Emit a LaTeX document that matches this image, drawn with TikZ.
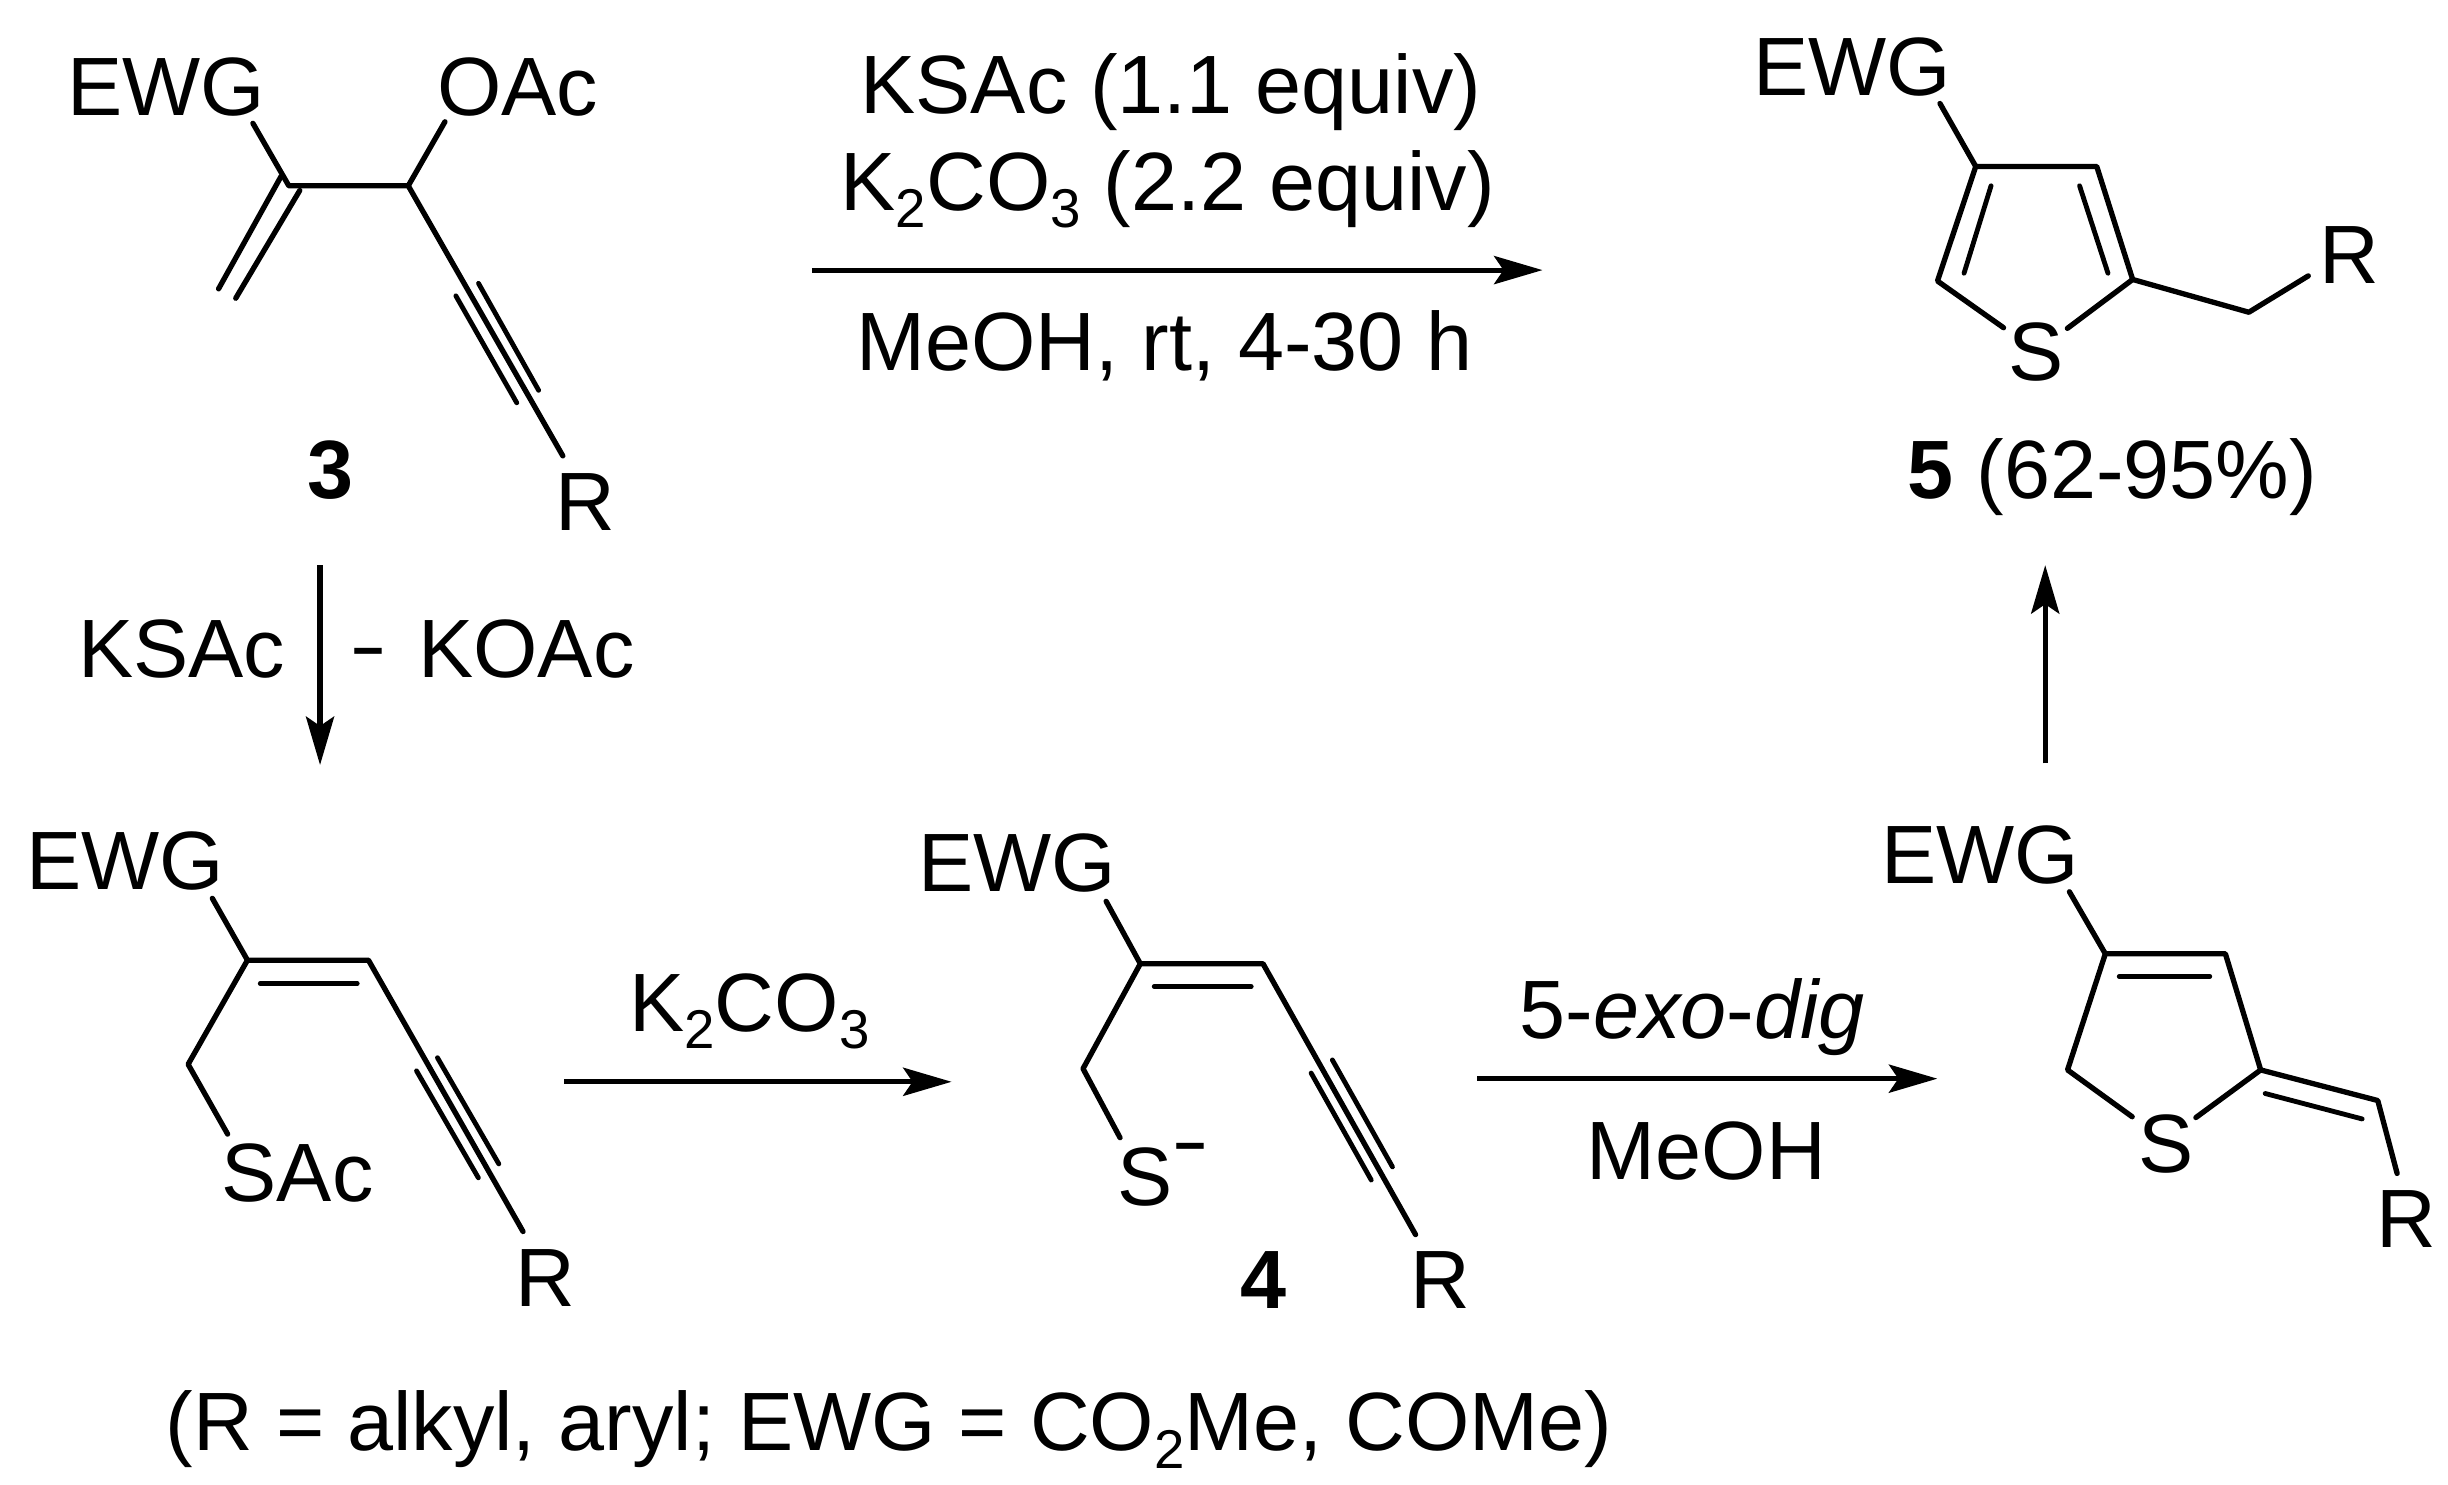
\documentclass[tikz,border=0pt]{standalone}
\usepackage{fontspec}
\setmainfont{Liberation Sans}
\usetikzlibrary{arrows.meta}
\newcommand{\chemsub}[1]{\raisebox{-11pt}{\fontsize{35}{35}\selectfont #1}}
\tikzset{
  lbl/.style={inner sep=0pt,outer sep=0pt,anchor=base west,font=\fontsize{53}{60}\selectfont},
  lblc/.style={lbl,anchor=base},
  bond/.style={line width=3.4pt,line cap=round,line join=round},
  thin bond/.style={line width=3.1pt,line cap=round},
  rxn/.style={line width=3.3pt,-{Stealth[length=31pt,width=18pt,inset=6pt]}}
}
\begin{document}
\begin{tikzpicture}[x=1pt,y=-1pt]
\useasboundingbox (0,0) rectangle (1568,951);
% ---------- compound 3
\node[lbl] (e3) at (43,73.7) {EWG};
\node[lbl] (o3) at (280,73.7) {OAc};
\node[lbl] (r3) at (356,340) {R};
\node[lblc] (n3) at (212,319) {\textbf{3}};
\coordinate (a1) at (162,79);
\coordinate (a2) at (185,119);
\coordinate (a3) at (261.5,119);
\coordinate (a4) at (285,78);
\coordinate (a5) at (360.5,292);
\coordinate (a6) at (180,113);
\coordinate (a7) at (140,185);
\coordinate (a8) at (192,122);
\coordinate (a9) at (151,191);
\coordinate (a10) at (292,189.5);
\coordinate (a11) at (331,258);
\coordinate (a12) at (306.5,181.5);
\coordinate (a13) at (345,250);
\draw[bond] (a1) -- (a2) -- (a3) -- (a5);
\draw[bond] (a3) -- (a4);
\draw[bond] (a6) -- (a7);
\draw[bond] (a8) -- (a9);
\draw[thin bond] (a10) -- (a11);
\draw[thin bond] (a12) -- (a13);
% ---------- top conditions
\node[lblc] (t1) at (750,73) {KSAc (1.1 equiv)};
\node[lblc] (t2) at (748,135) {K\chemsub{2}CO\chemsub{3} (2.2 equiv)};
\node[lblc] (t3) at (746,237) {MeOH, rt, 4-30 h};
\coordinate (b1) at (520,173);
\coordinate (b2) at (988,173);
\draw[rxn] (b1) -- (b2);
% ---------- compound 5
\node[lbl] (e5) at (1123,61) {EWG};
\node[lbl] (r5) at (1485.5,181.6) {R};
\node[lblc] (s5) at (1304,244) {S};
\node[lblc] (n5) at (1353,319) {\textbf{5} (62-95\%)};
\coordinate (c1) at (1242.6,66.3);
\coordinate (c2) at (1265.5,106.6);
\coordinate (c3) at (1343,106.6);
\coordinate (c4) at (1366,179);
\coordinate (c5) at (1241,180);
\coordinate (c6) at (1283.3,209.9);
\coordinate (c7) at (1324.2,210.3);
\coordinate (c8) at (1440.4,200);
\coordinate (c9) at (1478.5,176.7);
\coordinate (c10) at (1275.3,119);
\coordinate (c11) at (1258,175);
\coordinate (c12) at (1332,119);
\coordinate (c13) at (1350.2,175);
\draw[bond] (c1) -- (c2) -- (c3) -- (c4) -- (c7);
\draw[bond] (c2) -- (c5) -- (c6);
\draw[bond] (c4) -- (c8) -- (c9);
\draw[thin bond] (c10) -- (c11);
\draw[thin bond] (c12) -- (c13);
% ---------- vertical arrows
\coordinate (d1) at (205,362);
\coordinate (d2) at (205,490);
\draw[rxn] (d1) -- (d2);
\coordinate (d3) at (1310,489);
\coordinate (d4) at (1310,362);
\draw[rxn] (d3) -- (d4);
\node[lbl] (k1) at (50,434) {KSAc};
\node[lbl] (k2) at (226,429) {\fontsize{35}{35}\selectfont\textbf{−}};
\node[lbl] (k3) at (268,434) {KOAc};
% ---------- SAc compound
\node[lbl] (e6) at (17,569.8) {EWG};
\node[lbl] (s6) at (142,769.8) {SAc};
\node[lbl] (r6) at (330.5,837) {R};
\coordinate (f1) at (136,575.4);
\coordinate (f2) at (158.5,615);
\coordinate (f3) at (236,615);
\coordinate (f4) at (120.5,681.7);
\coordinate (f5) at (145.8,726.4);
\coordinate (f6) at (335,788.8);
\coordinate (f7) at (166.7,630);
\coordinate (f8) at (228.8,630);
\coordinate (f9) at (266.8,685.9);
\coordinate (f10) at (306.4,754.4);
\coordinate (f11) at (280.2,677.5);
\coordinate (f12) at (319.5,745.5);
\draw[bond] (f1) -- (f2) -- (f3) -- (f6);
\draw[bond] (f2) -- (f4) -- (f5);
\draw[thin bond] (f7) -- (f8);
\draw[thin bond] (f9) -- (f10);
\draw[thin bond] (f11) -- (f12);
\coordinate (g1) at (361.5,692.9);
\coordinate (g2) at (609.5,692.9);
\draw[rxn] (g1) -- (g2);
\node[lblc] (k4) at (480,660.7) {K\chemsub{2}CO\chemsub{3}};
% ---------- compound 4
\node[lbl] (e4) at (588,571.2) {EWG};
\node[lbl] (s4) at (715.5,772) {S};
\node[lbl] (m4) at (752,746) {\fontsize{35}{35}\selectfont\textbf{−}};
\node[lbl] (r4) at (903.5,838) {R};
\node[lblc] (n4) at (809,838) {\textbf{4}};
\coordinate (h1) at (708.5,577.3);
\coordinate (h2) at (730.4,617.3);
\coordinate (h3) at (809,617.3);
\coordinate (h4) at (693.7,684.5);
\coordinate (h5) at (717.4,728.7);
\coordinate (h6) at (906.7,790.8);
\coordinate (h7) at (739.3,631.9);
\coordinate (h8) at (801.4,631.9);
\coordinate (h9) at (839.8,687.3);
\coordinate (h10) at (878.3,755.8);
\coordinate (h11) at (853.4,678.9);
\coordinate (h12) at (891.9,747.4);
\draw[bond] (h1) -- (h2) -- (h3) -- (h6);
\draw[bond] (h2) -- (h4) -- (h5);
\draw[thin bond] (h7) -- (h8);
\draw[thin bond] (h9) -- (h10);
\draw[thin bond] (h11) -- (h12);
\coordinate (i1) at (946.3,690.9);
\coordinate (i2) at (1240.9,690.9);
\draw[rxn] (i1) -- (i2);
\node[lblc] (t4) at (1084,664.9) {5-\textit{exo}-\textit{dig}};
\node[lblc] (t5) at (1093,755.8) {MeOH};
% ---------- exo intermediate
\node[lbl] (e7) at (1205,565.6) {EWG};
\node[lblc] (s7) at (1387.5,750.8) {S};
\node[lbl] (r7) at (1522.5,799.2) {R};
\coordinate (j1) at (1325.5,571.2);
\coordinate (j2) at (1348.5,610.9);
\coordinate (j3) at (1425.4,610.9);
\coordinate (j4) at (1448,685.3);
\coordinate (j5) at (1324.3,685.3);
\coordinate (j6) at (1365.7,715.3);
\coordinate (j7) at (1406.5,715.8);
\coordinate (j8) at (1523,704.9);
\coordinate (j9) at (1535.4,751.6);
\coordinate (j10) at (1357.4,625.4);
\coordinate (j11) at (1415.4,625.4);
\coordinate (j12) at (1450.9,700.4);
\coordinate (j13) at (1513,716.7);
\draw[bond] (j1) -- (j2) -- (j3) -- (j4) -- (j7);
\draw[bond] (j2) -- (j5) -- (j6);
\draw[bond] (j4) -- (j8) -- (j9);
\draw[thin bond] (j10) -- (j11);
\draw[thin bond] (j12) -- (j13);
% ---------- caption
\node[lblc] (cap) at (569.5,929.3) {(R = alkyl, aryl; EWG = CO\chemsub{2}Me, COMe)};
\end{tikzpicture}
\end{document}
